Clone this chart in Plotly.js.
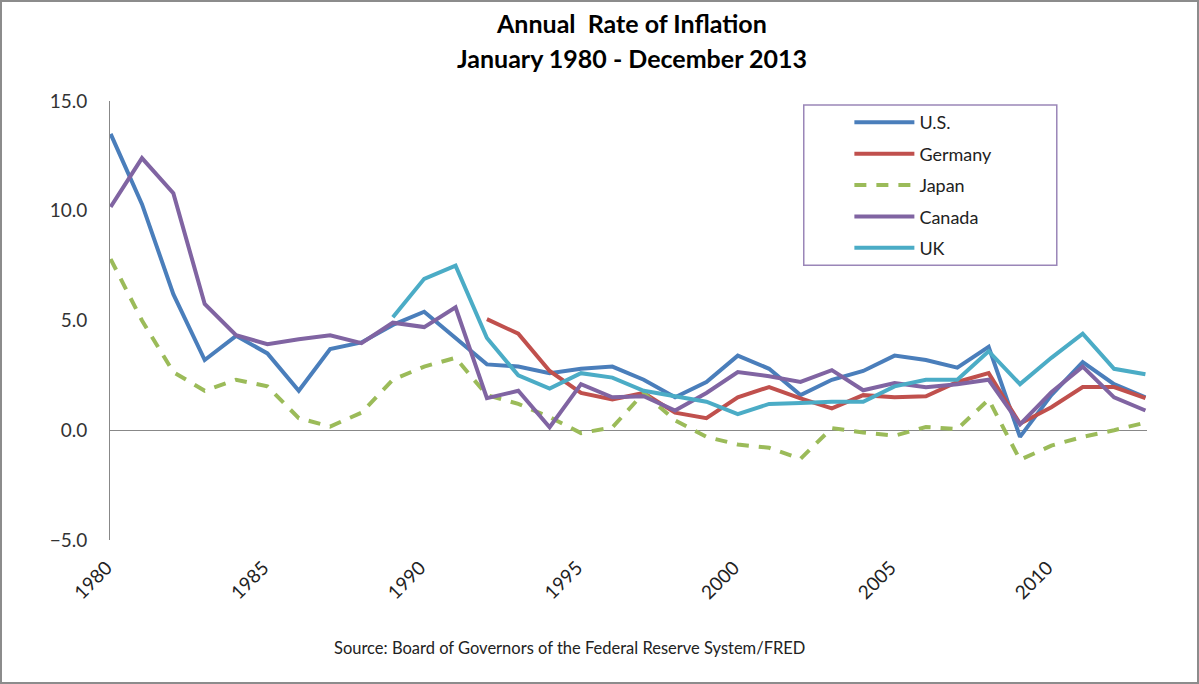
<!DOCTYPE html>
<html>
<head>
<meta charset="utf-8">
<script src="https://cdn.plot.ly/plotly-3.0.1.min.js"></script>
<style>
  body { margin: 0; background: #fff; }
  #chart { width: 1195px; height: 680px; border: 2px solid #8c8c8c; }
</style>
</head>
<body>
<div id="chart"></div>
<script>
var years = [];
for (var y = 1980; y <= 2013; y++) years.push(y);

var us = [13.5, 10.3, 6.2, 3.2, 4.3, 3.5, 1.8, 3.7, 4.0, 4.8, 5.4, 4.2, 3.0, 2.9, 2.6, 2.8, 2.9, 2.3, 1.5, 2.2,
          3.4, 2.8, 1.6, 2.3, 2.7, 3.4, 3.2, 2.85, 3.8, -0.3, 1.6, 3.1, 2.1, 1.5];
var germany = [null, null, null, null, null, null, null, null, null, null, null, null, 5.06, 4.4, 2.7, 1.7, 1.4, 1.7, 0.8, 0.55,
               1.5, 1.97, 1.45, 1.0, 1.6, 1.5, 1.55, 2.2, 2.6, 0.3, 1.05, 1.97, 1.97, 1.46];
var japan = [7.8, 5.0, 2.65, 1.8, 2.3, 2.0, 0.55, 0.17, 0.8, 2.3, 2.9, 3.3, 1.6, 1.2, 0.6, -0.13, 0.13, 1.7, 0.45, -0.3,
             -0.65, -0.8, -1.3, 0.1, -0.1, -0.25, 0.15, 0.05, 1.4, -1.35, -0.7, -0.3, 0.0, 0.35];
var canada = [10.17, 12.4, 10.8, 5.75, 4.33, 3.92, 4.15, 4.33, 3.97, 4.9, 4.7, 5.6, 1.46, 1.8, 0.14, 2.1, 1.5, 1.55, 0.9, 1.7,
              2.65, 2.46, 2.2, 2.74, 1.82, 2.15, 1.96, 2.1, 2.3, 0.27, 1.73, 2.9, 1.5, 0.9];
var uk = [null, null, null, null, null, null, null, null, null, 5.15, 6.9, 7.5, 4.2, 2.5, 1.9, 2.6, 2.4, 1.8, 1.56, 1.3,
          0.73, 1.2, 1.24, 1.3, 1.3, 2.0, 2.3, 2.3, 3.6, 2.1, 3.3, 4.4, 2.8, 2.55];

var names = ["U.S.", "Germany", "Japan", "Canada", "UK"];
var series = [us, germany, japan, canada, uk];
var colors = ["#4a7ebb", "#c0504d", "#9bbb59", "#8064a2", "#4bacc6"];
var dashes = ["solid", "solid", "12px,10px", "solid", "solid"];

var font = "Lato, 'Liberation Sans', sans-serif";

var data = series.map(function (vals, i) {
  return {
    x: years,
    y: vals,
    name: names[i],
    legendgroup: names[i],
    type: "scatter",
    mode: "lines",
    line: { color: colors[i], width: 4, dash: dashes[i] },
    connectgaps: false
  };
});

var layout = {
  width: 1195,
  height: 680,
  margin: { l: 108, r: 50, t: 99, b: 142 },
  paper_bgcolor: "#fff",
  plot_bgcolor: "#fff",
  font: { family: font, size: 18, color: "#333" },
  showlegend: true,
  legend: {
    x: 0.713, y: 0.993, xanchor: "left", yanchor: "top",
    bgcolor: "rgba(0,0,0,0)",
    borderwidth: 0,
    itemwidth: 60,
    tracegroupgap: 5,
    font: { family: font, size: 18, color: "#222" }
  },
  xaxis: {
    range: [1979.98, 2013.05],
    tickvals: [1980, 1985, 1990, 1995, 2000, 2005, 2010],
    tickangle: -45,
    ticks: "",
    showgrid: false,
    zeroline: false,
    showline: false,
    ticklabelstandoff: 12,
    ticklabelshift: -4,
    tickfont: { family: font, size: 19, color: "#222" }
  },
  yaxis: {
    range: [-5, 15],
    tickvals: [-5, 0, 5, 10, 15],
    tickformat: ".1f",
    ticks: "",
    showgrid: false,
    zeroline: true,
    zerolinecolor: "#888",
    zerolinewidth: 1,
    showline: true,
    linecolor: "#888",
    linewidth: 1,
    ticklabelstandoff: 18,
    tickfont: { family: font, size: 19, color: "#333" }
  },
  shapes: [
    { type: "rect", xref: "paper", yref: "paper", x0: 0.669, x1: 0.913, y0: 0.626, y1: 0.991,
      line: { color: "#9a86b8", width: 1.5 }, fillcolor: "rgba(0,0,0,0)" }
  ],
  annotations: [
    { text: "<b>Annual  Rate of Inflation</b>", xref: "paper", yref: "paper", x: 0.503, y: 1.178,
      xanchor: "center", yanchor: "middle", showarrow: false, font: { family: font, size: 25, color: "#000" } },
    { text: "<b>January 1980 - December 2013</b>", xref: "paper", yref: "paper", x: 0.503, y: 1.098,
      xanchor: "center", yanchor: "middle", showarrow: false, font: { family: font, size: 25, color: "#000" } },
    { text: "Source: Board of Governors of the Federal Reserve System/FRED", xref: "paper", yref: "paper",
      x: 0.443, y: -0.246, xanchor: "center", yanchor: "middle", showarrow: false,
      font: { family: font, size: 16.5, color: "#222" } }
  ]
};

Plotly.newPlot("chart", data, layout, { displayModeBar: false });
</script>
</body>
</html>
